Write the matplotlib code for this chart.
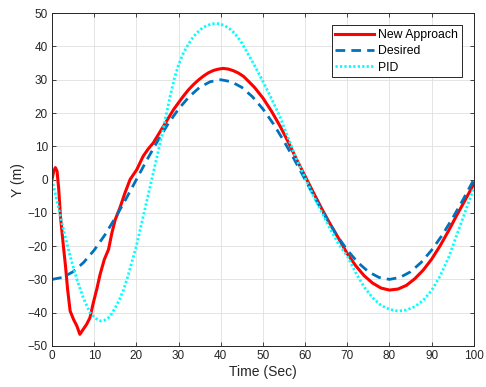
import matplotlib
matplotlib.use("Agg")
import matplotlib.pyplot as plt

plt.rcParams["font.family"] = ["Liberation Sans", "DejaVu Sans"]

# New Approach (red)
t_new = [0, 0.4, 0.8, 1.2, 1.6, 2.0, 2.7, 3.2, 3.7, 4.3, 5.1, 5.9, 6.6, 7.4,
         8.2, 9.0, 9.8, 10.6, 11.4, 12.4, 13.4, 14.2, 15.0, 16.1, 17.3, 18.5,
         20.1, 21.6, 22.8, 24.0, 25.2, 26.4, 27.6, 28.8, 30.0, 31.1, 32.3, 33.5,
         34.7, 35.9, 37.1, 38.3, 39.5, 40.6, 41.8, 43.0, 44.2, 45.4, 46.6, 48,
         50, 52, 54, 56, 58, 60, 62, 64, 66, 68, 70, 72, 74, 76, 78, 80, 82, 84,
         86, 88, 90, 92, 94, 96, 98, 100]
y_new = [0, 2.5, 3.6, 2.5, -3, -11, -20, -26, -33, -39.5, -42, -44, -46.5, -45,
         -43.5, -41.5, -37, -33, -28.5, -24, -21, -16, -12, -8.5, -4, 0,
         3, 7, 9.2, 11, 13.5, 16, 18.5, 21, 23.1, 25, 26.9, 28.5,
         29.9, 31.1, 32.1, 32.8, 33.2, 33.4, 33.2, 32.7, 32.0, 31.0, 29.5, 27.7,
         24.5, 20.6, 16.2, 11.3, 6, 1, -4, -8.9, -13.5, -17.8, -22.3, -25.9,
         -28.9, -31.1, -32.6, -33.2, -32.9, -31.8, -29.8, -27.2, -23.9, -19.9,
         -15.4, -10.6, -6, -1.3]

# Desired (blue dashed)
t_des = [0, 2.5, 5, 7.5, 10, 12.5, 15, 17.5, 20, 22.5, 25, 27.5, 30, 32.5, 35,
         37.5, 40, 42.5, 45, 47.5, 50, 52.5, 55, 57.5, 60, 62.5, 65, 67.5, 70,
         72.5, 75, 77.5, 80, 82.5, 85, 87.5, 90, 92.5, 95, 97.5, 100]
y_des = [-30.0, -29.4, -27.7, -24.9, -21.2, -16.7, -11.5, -5.9, 0.0, 5.9, 11.5,
         16.7, 21.2, 24.9, 27.7, 29.4, 30.0, 29.4, 27.7, 24.9, 21.2, 16.7, 11.5,
         5.9, 0.0, -5.9, -11.5, -16.7, -21.2, -24.9, -27.7, -29.4, -30.0, -29.4,
         -27.7, -24.9, -21.2, -16.7, -11.5, -5.9, 0.0]

# PID (cyan dotted)
t_pid = [0, 1.1, 2.7, 4.3, 5.9, 7.4, 9.0, 10.0, 10.8, 11.6, 12.4, 13.4, 14.2,
         15, 16, 17, 18, 19, 20, 21, 22, 23, 24, 25, 26, 27, 28, 29, 30, 31, 32,
         33, 34, 35, 36, 37, 38, 39, 40, 41, 42, 43, 44, 45, 46, 48, 50, 52, 54,
         56, 58, 60, 62, 64, 66, 68, 70, 72, 74, 76, 78, 80, 82, 84, 86, 88, 90,
         92, 94, 96, 98, 100]
y_pid = [0, -6, -15, -23, -30, -35.5, -40, -41.3, -42.1, -42.5, -42.3, -41.5,
         -40.2, -38.5, -36, -33, -29, -24.5, -20, -14.5, -9, -3.5, 2, 7.5, 13,
         19, 25, 30.3, 34.5, 37.6, 40, 42, 43.6, 44.9, 45.8, 46.4, 46.8, 46.9,
         46.7, 46.2, 45.4, 44.3, 42.8, 41, 38.8, 34.3, 29.5, 24.4, 19, 12.5, 6,
         0.5, -5, -10, -15, -19.5, -23, -28, -32.3, -35.5, -37.8, -39, -39.5,
         -39.2, -38.2, -36.3, -33.3, -29, -23.5, -16.5, -9.5, -2.5]

fig = plt.figure(figsize=(4.86, 3.87), dpi=100)
ax = fig.add_axes([0.107, 0.106, 0.868, 0.860])

ax.plot(t_new, y_new, color="#ff0000", lw=2.2, label="New Approach")
ax.plot(t_des, y_des, color="#0072bd", lw=2.0, ls=(0, (3.5, 2.2)), label="Desired")
ax.plot(t_pid, y_pid, color="#00ffff", lw=2.0, ls=(0, (0.8, 0.8)), label="PID")

ax.set_xlim(0, 100)
ax.set_ylim(-50, 50)
ax.set_xticks(range(0, 101, 10))
ax.set_yticks(range(-50, 51, 10))
ax.grid(True, color="#dfdfdf", lw=0.6)
ax.set_axisbelow(True)
ax.tick_params(direction="in", top=True, right=True, length=3, width=0.6,
               labelsize=8.5, colors="#262626", pad=3)
for s in ax.spines.values():
    s.set_color("#262626")
    s.set_linewidth(0.7)

ax.set_xlabel("Time (Sec)", fontsize=10, color="#262626", labelpad=2)
ax.set_ylabel("Y (m)", fontsize=10, color="#262626", labelpad=2)

leg = ax.legend(loc="upper right", fontsize=8.8, fancybox=False, framealpha=1,
                edgecolor="#262626", borderaxespad=1.0, handlelength=3.2,
                handletextpad=0.3, borderpad=0.3, labelspacing=0.35)
leg.get_frame().set_linewidth(0.7)

fig.savefig("out.png", dpi=100)
